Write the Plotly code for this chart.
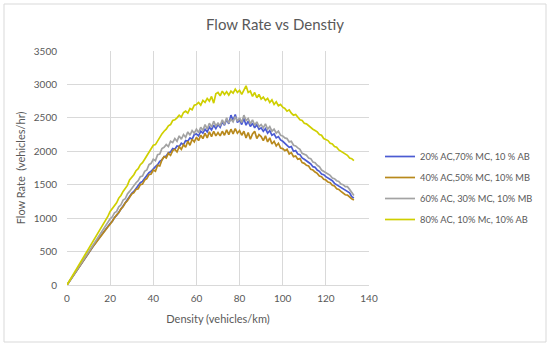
import plotly.graph_objects as go

density = list(range(0, 134))

flow_20ac = [0,49,98,148,196,245,294,343,392,440,
490,535,580,620,665,710,750,790,840,875,
920,950,1010,1040,1090,1130,1180,1220,1280,1330,
1370,1400,1450,1480,1530,1550,1600,1630,1680,1700,
1740,1770,1800,1850,1870,1920,1930,1980,1990,2040,
2030,2080,2070,2120,2100,2160,2150,2200,2180,2250,
2260,2230,2300,2270,2330,2290,2360,2320,2390,2340,
2400,2360,2440,2390,2480,2410,2540,2460,2550,2430,
2470,2400,2490,2390,2450,2370,2420,2350,2400,2330,
2350,2300,2340,2270,2310,2240,2260,2200,2220,2170,
2150,2120,2100,2060,2070,2000,2010,1960,1950,1900,
1880,1860,1830,1810,1770,1760,1720,1700,1660,1650,
1620,1600,1570,1560,1520,1500,1480,1460,1430,1410,
1400,1380,1320,1300]

flow_40ac = [0,49,98,147,196,245,293,342,390,440,
488,530,575,615,660,700,745,785,830,870,
910,960,990,1050,1080,1140,1170,1230,1260,1320,
1360,1380,1430,1440,1500,1510,1570,1590,1650,1660,
1720,1700,1790,1780,1870,1920,1900,1970,1940,2010,
2030,1990,2070,2030,2100,2060,2150,2090,2180,2140,
2210,2160,2240,2190,2270,2200,2290,2220,2300,2230,
2280,2230,2300,2240,2320,2250,2330,2260,2340,2270,
2310,2240,2300,2200,2280,2180,2260,2300,2190,2250,
2220,2160,2230,2140,2200,2110,2150,2080,2120,2050,
2040,2010,2030,1960,1980,1920,1930,1880,1890,1830,
1820,1790,1780,1730,1720,1690,1670,1630,1620,1580,
1570,1540,1530,1490,1480,1440,1430,1400,1380,1350,
1345,1310,1290,1270]

flow_60ac = [0,50,102,150,202,250,300,352,400,450,
500,548,600,645,700,740,800,840,890,940,
990,1020,1080,1100,1170,1200,1270,1290,1360,1400,
1450,1480,1530,1560,1620,1630,1700,1720,1800,1820,
1880,1860,1950,1960,2040,2060,2100,2070,2150,2130,
2190,2150,2230,2180,2250,2210,2290,2240,2310,2270,
2330,2280,2360,2310,2400,2330,2420,2360,2450,2380,
2420,2380,2470,2400,2500,2420,2480,2440,2520,2450,
2500,2430,2540,2460,2490,2410,2470,2390,2440,2370,
2400,2350,2410,2330,2370,2300,2330,2270,2300,2240,
2230,2200,2190,2140,2150,2090,2080,2050,2030,1970,
1960,1940,1900,1890,1840,1830,1790,1770,1720,1700,
1680,1660,1640,1600,1590,1560,1550,1510,1500,1470,
1470,1430,1390,1340]

flow_80ac = [0,55,108,160,212,268,318,372,425,478,
530,590,640,700,748,810,860,915,975,1030,
1100,1140,1195,1230,1300,1340,1400,1450,1490,1570,
1610,1650,1710,1740,1800,1830,1880,1930,1990,2020,
2090,2100,2160,2200,2260,2300,2330,2380,2400,2460,
2470,2500,2540,2510,2580,2600,2570,2640,2620,2690,
2700,2730,2690,2760,2730,2790,2750,2820,2720,2860,
2880,2830,2900,2850,2890,2840,2900,2870,2930,2880,
2910,2850,2930,2980,2880,2900,2820,2880,2800,2850,
2780,2810,2760,2790,2730,2770,2700,2740,2680,2700,
2660,2640,2600,2620,2570,2540,2550,2500,2470,2460,
2420,2410,2380,2360,2330,2310,2290,2250,2240,2190,
2170,2160,2120,2110,2070,2060,2020,2000,1980,1950,
1940,1900,1890,1860]

series_names = ["20% AC,70% MC, 10 % AB", "40% AC,50% MC, 10% MB",
                "60% AC, 30% MC, 10% MB", "80% AC, 10% Mc, 10% AB"]
series_values = [flow_20ac, flow_40ac, flow_60ac, flow_80ac]
colors = ["#4B5BD2", "#B8891C", "#A3A3A3", "#CFCF00"]

x_ticks = [0, 20, 40, 60, 80, 100, 120, 140]
y_ticks = [0, 500, 1000, 1500, 2000, 2500, 3000, 3500]

FONT = "Lato"
GREY = "#595959"

fig = go.Figure()
for i, (name, vals) in enumerate(zip(series_names, series_values)):
    fig.add_trace(go.Scatter(x=density, y=vals, mode="lines", name=name,
                             legendgroup=f"g{i}",
                             line=dict(color=colors[i], width=1.7)))

L, R, T, B = 67, 369, 51, 285
W, H = 550, 346

def px_x(p):
    return (p - L) / (R - L)

def px_y(p):
    return (B - p) / (B - T)

fig.update_layout(
    width=W, height=H,
    margin=dict(l=L, r=W - R, t=T, b=H - B),
    paper_bgcolor="white", plot_bgcolor="white",
    font=dict(family=FONT, color=GREY, size=10),
    title=dict(text="Flow Rate vs Denstiy", x=0.5, xanchor="center",
               y=1 - 25 / H, yanchor="middle",
               font=dict(family=FONT, size=15, color=GREY)),
    xaxis=dict(range=[0, 140], tickvals=x_ticks, showgrid=True,
               gridcolor="#D9D9D9", gridwidth=1, zeroline=False,
               showline=True, linecolor="#D9D9D9", linewidth=1,
               ticks="outside", ticklen=4, tickcolor="rgba(0,0,0,0)",
               tickfont=dict(size=10, color=GREY),
               title=dict(text="Density (vehicles/km)", standoff=12,
                          font=dict(size=11, color=GREY))),
    yaxis=dict(range=[0, 3500], tickvals=y_ticks, showgrid=True,
               gridcolor="#D9D9D9", gridwidth=1, zeroline=False,
               showline=False,
               ticks="outside", ticklen=7, tickcolor="rgba(0,0,0,0)",
               tickfont=dict(size=10, color=GREY),
               title=dict(text="Flow Rate  (vehicles/hr)", standoff=5,
                          font=dict(size=11, color=GREY))),
    legend=dict(x=px_x(380), xanchor="left", y=px_y(142), yanchor="top",
                bgcolor="rgba(0,0,0,0)", tracegroupgap=2,
                font=dict(size=9.3, color=GREY)),
    showlegend=True,
)

fig.add_shape(type="rect", xref="paper", yref="paper",
              x0=px_x(4), x1=px_x(546), y0=px_y(342), y1=px_y(4),
              line=dict(color="#D9D9D9", width=1), fillcolor="rgba(0,0,0,0)",
              layer="below")

fig.write_html("out.html", config={"displayModeBar": False},
               post_script="document.body.style.margin='0';")
